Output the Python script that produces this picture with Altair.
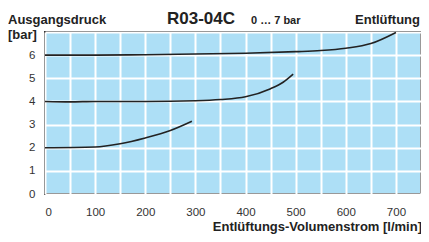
import altair as alt
import pandas as pd

# Curve data
x6 = [0, 100, 200, 300, 400, 500, 550, 600, 650, 700]
y6 = [6.0, 6.0, 6.02, 6.05, 6.08, 6.15, 6.2, 6.3, 6.5, 6.98]
x4 = [0, 50, 100, 200, 300, 350, 400, 450, 475, 495]
y4 = [4.0, 3.98, 4.0, 4.0, 4.03, 4.08, 4.2, 4.55, 4.83, 5.18]
x2 = [0, 100, 150, 200, 250, 293]
y2 = [2.0, 2.03, 2.17, 2.42, 2.74, 3.14]

x_ticks = list(range(0, 751, 50))
y_ticks = [0, 1, 2, 3, 4, 5, 6, 7]

rows = []
for name, xs, ys in (("6", x6, y6), ("4", x4, y4), ("2", x2, y2)):
    for a, b in zip(xs, ys):
        rows.append({"curve": name, "q": a, "p": b})
df = pd.DataFrame(rows)

FONT = "Liberation Sans"

lines = alt.Chart(df).mark_line(color="#222222", strokeWidth=1.6, interpolate="monotone").encode(
    x=alt.X("q:Q", scale=alt.Scale(domain=[0, 750], nice=False, zero=False),
            axis=alt.Axis(values=x_ticks, title=None, grid=True, gridColor="white", gridWidth=2,
                          gridOpacity=1, ticks=False, domain=False, labelPadding=12,
                          labelFontSize=11.5, labelColor="#333333", labelFont=FONT,
                          labelExpr="datum.value % 100 == 0 && datum.value < 750 ? datum.label : ''")),
    y=alt.Y("p:Q", scale=alt.Scale(domain=[0, 7], nice=False, zero=True),
            axis=alt.Axis(values=y_ticks, title=None, grid=True, gridColor="white",
                          gridWidth=2, gridOpacity=1, ticks=False, domain=False, labelPadding=10,
                          labelFontSize=11.5, labelColor="#333333", labelFont=FONT,
                          labelExpr="datum.value < 7 ? datum.label : ''")),
    detail="curve:N",
)

texts = pd.DataFrame([
    {"t": "Ausgangsdruck", "x": -37, "y": -8, "s": 13, "a": "left"},
    {"t": "[bar]", "x": -37, "y": 7, "s": 13, "a": "left"},
    {"t": "R03-04C", "x": 122, "y": -8, "s": 17, "a": "left"},
    {"t": "0 … 7 bar", "x": 206, "y": -8, "s": 11, "a": "left"},
    {"t": "Entlüftung", "x": 375, "y": -8, "s": 13, "a": "right"},
    {"t": "Entlüftungs-Volumenstrom [l/min]", "x": 377, "y": 199, "s": 13, "a": "right"},
])

layers = []
for _, r in texts.iterrows():
    layers.append(
        alt.Chart(pd.DataFrame({"t": [r["t"]]})).mark_text(
            font=FONT, fontWeight="bold", fontSize=int(r["s"]), align=r["a"],
            baseline="alphabetic", color="#222222"
        ).encode(text="t:N", x=alt.value(int(r["x"])), y=alt.value(int(r["y"])))
    )

chart = alt.layer(lines, *layers).properties(
    width=376, height=162,
    autosize=alt.AutoSizeParams(type="none"),
    padding={"left": 37, "top": 24, "right": 0, "bottom": 40},
    background="white",
).configure_view(fill="#ADDFF6", stroke="#333333", strokeWidth=2)

chart.save("out.html", embed_options={"renderer": "svg", "actions": False})
